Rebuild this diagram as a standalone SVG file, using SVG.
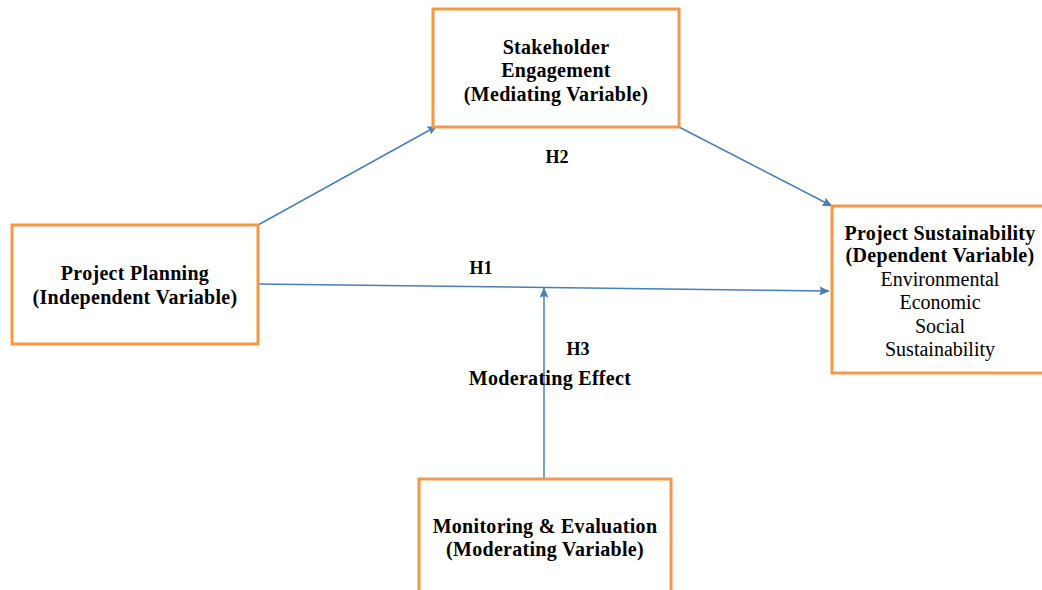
<svg xmlns="http://www.w3.org/2000/svg" width="1042" height="590" viewBox="0 0 1042 590">
<style>
.box{fill:#fff;stroke:#F79646;stroke-width:3}
.t{font-family:"Liberation Serif","Times New Roman",serif;font-size:20px;text-anchor:middle;fill:#000}
.b{font-weight:bold;letter-spacing:0.3px}
.h{font-size:18px;letter-spacing:0}
.c{stroke:#4A7EBB;stroke-width:1.5;fill:none;marker-end:url(#ah)}
</style>
<defs>
<marker id="ah" viewBox="0 0 10 10" refX="9.5" refY="5" markerWidth="10" markerHeight="10" markerUnits="userSpaceOnUse" orient="auto">
<path d="M0,0.5 L10,5 L0,9.5 L1.5,5 z" fill="#4A7EBB"/>
</marker>
</defs>
<rect width="1042" height="590" fill="#fff"/>
<g id="connectors">
<line class="c" x1="258" y1="225" x2="437" y2="126"/>
<line class="c" x1="679" y1="127" x2="832" y2="206"/>
<line class="c" x1="258" y1="284" x2="829" y2="291"/>
<line class="c" x1="544" y1="481" x2="544" y2="288"/>
<text class="t b h" x="557" y="163">H2</text>
<text class="t b h" x="481" y="274">H1</text>
<text class="t b h" x="578" y="355">H3</text>
<text class="t b" x="550" y="385">Moderating Effect</text>
</g>
<g id="stakeholder">
<rect class="box" x="433" y="9" width="246" height="118"/>
<text class="t b" x="556" y="54">Stakeholder</text>
<text class="t b" x="556" y="77">Engagement</text>
<text class="t b" x="556" y="101">(Mediating Variable)</text>
</g>
<g id="planning">
<rect class="box" x="12" y="225" width="246" height="119"/>
<text class="t b" x="135" y="280">Project Planning</text>
<text class="t b" x="135" y="304">(Independent Variable)</text>
</g>
<g id="sustainability">
<rect class="box" x="832" y="206" width="230" height="167"/>
<text class="t b" x="940" y="240">Project Sustainability</text>
<text class="t b" x="940" y="262">(Dependent Variable)</text>
<text class="t" x="940" y="286">Environmental</text>
<text class="t" x="940" y="309">Economic</text>
<text class="t" x="940" y="333">Social</text>
<text class="t" x="940" y="356">Sustainability</text>
</g>
<g id="monitoring">
<rect class="box" x="419" y="479" width="252" height="130"/>
<text class="t b" x="545" y="533">Monitoring &amp; Evaluation</text>
<text class="t b" x="545" y="556">(Moderating Variable)</text>
</g>
</svg>
